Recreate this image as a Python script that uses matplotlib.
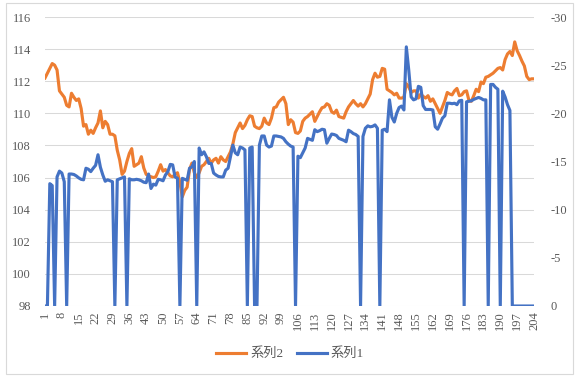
import numpy as np
import matplotlib
matplotlib.use("Agg")
import matplotlib.pyplot as plt
from matplotlib.patches import Rectangle

plt.rcParams['font.family'] = ['Liberation Serif', 'Noto Sans CJK JP']
plt.rcParams['axes.unicode_minus'] = False

# 系列2 (left axis, orange), points 1..204
series2 = [
    112.2, 112.5, 112.8, 113.1, 113.0, 112.7, 111.4, 111.2, 111.0, 110.5,
    110.4, 111.25, 111.0, 110.8, 110.9, 110.3, 109.2, 109.3, 108.7, 108.95,
    108.75, 109.1, 109.4, 110.15, 109.1, 109.5, 109.3, 108.7, 108.7, 108.6,
    107.7, 107.1, 106.2, 106.4, 107.0, 107.5, 107.8, 106.7, 106.8, 106.9,
    107.3, 106.6, 106.2, 106.1, 106.05, 106.0, 106.05, 106.4, 106.8, 106.4,
    106.5, 106.3, 106.1, 106.05, 106.2, 106.3, 105.7, 104.8, 105.2, 105.4,
    106.5, 106.9, 106.3, 106.0, 106.3, 106.7, 106.8, 107.0, 107.2, 106.9,
    107.1, 107.2, 106.9, 107.3, 107.1, 107.0, 107.3, 107.6, 108.1, 108.8,
    109.1, 109.4, 109.05, 109.25, 109.6, 109.85, 109.8, 109.2, 109.1, 109.05,
    109.2, 109.7, 109.4, 109.3, 109.7, 110.35, 110.4, 110.7, 110.85, 111.0,
    110.6, 109.3, 109.6, 109.45, 108.8, 108.75, 108.9, 109.5, 109.7, 109.8,
    109.95, 110.1, 109.5, 109.8, 110.1, 110.35, 110.4, 110.6, 110.5, 110.1,
    110.0, 110.2, 109.8, 109.75, 109.7, 110.1, 110.4, 110.6, 110.8, 110.6,
    110.45, 110.6, 110.4, 110.6, 110.9, 111.2, 112.1, 112.5, 112.25, 112.3,
    112.8, 112.75, 111.5, 111.4, 111.3, 111.15, 111.25, 110.95, 110.95, 111.0,
    111.85, 111.65, 111.3, 111.4, 111.4, 110.95, 111.2, 111.05, 110.95, 111.1,
    110.75, 110.9, 110.6, 110.3, 110.0, 110.4, 110.8, 111.3, 111.2, 111.15,
    111.4, 111.55, 111.1, 111.15, 111.35, 111.4, 110.8, 110.75, 111.1, 111.5,
    111.35, 111.95, 111.85, 112.25, 112.3, 112.4, 112.5, 112.65, 112.8, 112.85,
    112.7, 113.35, 113.7, 113.85, 113.6, 114.45, 113.9, 113.6, 113.25, 112.95,
    112.3, 112.1, 112.15, 112.15,
]

# 系列1 (right axis, blue), points 1..204
series1 = [
    0, 0, -12.7, -12.5, 0, -13.4, -14.0, -13.8, -12.9, 0,
    -13.7, -13.7, -13.65, -13.5, -13.3, -13.15, -13.1, -14.3, -14.2, -13.95,
    -14.3, -14.6, -15.7, -14.4, -13.6, -12.95, -13.1, -13.0, -12.9, 0,
    -13.1, -13.2, -13.3, -13.4, 0, -13.2, -13.1, -13.1, -13.15, -13.1,
    -13.0, -12.85, -12.8, -13.7, -12.2, -12.65, -12.55, -13.15, -13.1, -13.0,
    -13.6, -13.95, -14.7, -14.65, -13.4, -13.25, 0, -13.25, -13.15, -13.05,
    -14.3, -14.45, -15.0, 0, -16.4, -15.7, -16.0, -15.5, -14.8, -14.8,
    -13.8, -13.6, -13.45, -13.4, -13.4, -14.1, -14.3, -15.5, -16.7, -15.9,
    -15.7, -16.5, -16.4, -16.2, 0, -16.4, -16.5, 0, 0, -16.7,
    -17.65, -17.65, -16.7, -16.5, -16.6, -17.65, -17.65, -17.6, -17.55, -17.4,
    -17.05, -16.8, -16.6, -16.5, 0, -15.55, -15.4, -15.9, -16.4, -17.4,
    -17.3, -17.2, -18.3, -18.1, -18.2, -18.35, -18.3, -16.9, -17.4, -17.85,
    -17.8, -17.7, -17.4, -17.3, -17.2, -17.05, -18.25, -18.1, -17.9, -17.8,
    -17.6, 0, -17.6, -18.45, -18.7, -18.6, -18.65, -18.8, -18.45, 0,
    -18.25, -18.35, -18.1, -21.4, -19.6, -19.1, -20.0, -20.6, -20.75, -20.35,
    -26.9, -24.5, -21.7, -21.4, -21.5, -22.8, -22.7, -20.8, -20.4, -20.4,
    -20.4, -20.35, -18.6, -18.35, -18.9, -19.5, -19.75, -21.05, -21.05, -21.0,
    -21.05, -20.9, -21.3, -21.35, 0, -21.2, -21.25, -21.3, -21.45, -21.55,
    -21.65, -21.55, -21.4, -21.4, 0, -23.0, -23.0, -22.7, -22.5, 0,
    -22.3, -21.7, -20.9, -20.3, 0, 0, 0, 0, 0, 0,
    0, 0, 0, 0,
]

x = np.arange(1, len(series2) + 1)
xticks = list(range(1, 205, 7))
left_ticks = list(range(98, 117, 2))
right_ticks = [0, -5, -10, -15, -20, -25, -30]

grid_c = '#D9D9D9'
text_c = '#595959'

fig = plt.figure(figsize=(5.8, 3.79), dpi=100)
ax = fig.add_axes([45 / 580, 1 - 306 / 379, (534 - 45) / 580, (306 - 17) / 379])

# chart area border
fig.patches.append(Rectangle((6 / 580, 5 / 379), 567 / 580, 371 / 379,
                             transform=fig.transFigure, fill=False,
                             edgecolor=grid_c, linewidth=0.8))

l2, = ax.plot(x, series2, color='#ED7D31', lw=2.25, label='系列2', zorder=3)
ax.set_xlim(1, 204)
ax.set_ylim(98, 116)
ax.set_yticks(left_ticks)
ax.set_xticks(xticks)
ax.set_xticklabels([str(t) for t in xticks], rotation=90)
ax.grid(axis='y', color=grid_c, lw=0.75)
ax.set_axisbelow(True)
for s in ax.spines.values():
    s.set_visible(False)
ax.tick_params(axis='y', length=0, pad=10, labelsize=9, labelcolor=text_c)
ax.tick_params(axis='x', length=0, pad=4, labelsize=9, labelcolor=text_c)

ax2 = ax.twinx()
l1, = ax2.plot(x, series1, color='#4472C4', lw=2.25, label='系列1')
ax2.set_ylim(0, -30)
ax2.set_yticks(right_ticks)
ax2.set_yticklabels([str(t) for t in right_ticks])
for s in ax2.spines.values():
    s.set_visible(False)
ax2.tick_params(axis='y', length=0, pad=12, labelsize=9, labelcolor=text_c)

fig.legend(handles=[l2, l1], loc='center', bbox_to_anchor=(0.5, 1 - 354 / 379),
           ncol=2, frameon=False, fontsize=9.5, labelcolor=text_c,
           handlelength=2.3, columnspacing=1.0, handletextpad=0.3)

fig.savefig('out.png', dpi=100)
